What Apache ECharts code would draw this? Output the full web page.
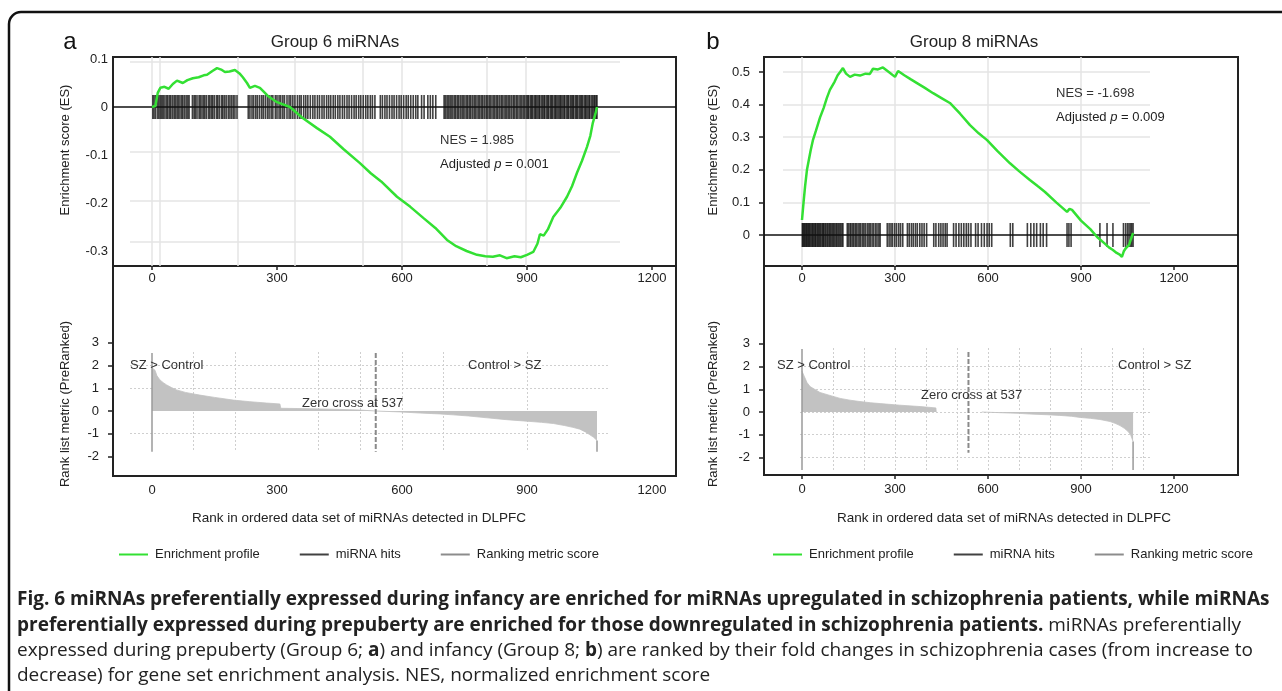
<!DOCTYPE html>
<html>
<head>
<meta charset="utf-8">
<title>GSEA miRNAs</title>
<script src="https://cdn.jsdelivr.net/npm/echarts@6/dist/echarts.min.js"></script>
<style>
  html, body { margin: 0; padding: 0; background: #fff; }
  #main { width: 1282px; height: 691px; }
</style>
</head>
<body>
<div id="main"></div>
<script type="text/javascript">
// ---- values ----
var xTicks = [0, 300, 600, 900, 1200];
var esTicksA = [-0.3, -0.2, -0.1, 0, 0.1];
var esTicksB = [0, 0.1, 0.2, 0.3, 0.4, 0.5];
var metricTicks = [-2, -1, 0, 1, 2, 3];

// panel a, Group 6: running enrichment score [rank, ES]
var esA = [[0,0],[8,0.002],[12,0.006],[14,0.03],[20,0.04],[30,0.042],[40,0.038],[50,0.048],[60,0.055],[74,0.05],
  [85,0.056],[98,0.06],[112,0.062],[124,0.066],[132,0.067],[145,0.075],[156,0.081],[166,0.078],[175,0.073],[186,0.074],
  [199,0.077],[210,0.07],[218,0.062],[228,0.05],[235,0.04],[247,0.044],[259,0.04],[268,0.032],[278,0.023],[300,0.01],
  [331,0],[360,-0.022],[396,-0.044],[427,-0.062],[460,-0.088],[499,-0.117],[525,-0.138],[550,-0.155],[588,-0.187],
  [620,-0.208],[651,-0.231],[680,-0.252],[708,-0.277],[730,-0.29],[755,-0.3],[780,-0.308],[800,-0.311],[818,-0.312],
  [835,-0.309],[851,-0.315],[870,-0.311],[885,-0.313],[900,-0.308],[915,-0.302],[925,-0.285],[931,-0.265],[940,-0.268],
  [950,-0.255],[963,-0.229],[980,-0.21],[996,-0.187],[1008,-0.165],[1020,-0.137],[1032,-0.112],[1044,-0.083],
  [1052,-0.06],[1058,-0.033],[1064,-0.015],[1068,0]];
// ranks of the set members (miRNA hits)
var hitsA = [2,5,9,14,17,21,24,27,31,35,38,42,45,49,53,56,60,63,67,71,74,78,82,86,89,
  97,101,104,108,113,116,120,124,127,131,136,139,143,146,150,155,158,162,167,170,174,178,183,187,191,195,199,204,
  231,235,240,244,249,253,258,263,267,272,277,281,286,290,296,300,305,309,314,318,324,329,333,338,343,349,354,358,
  364,369,374,380,386,391,397,402,408,413,419,424,429,435,440,446,451,457,462,468,473,479,485,490,496,501,507,513,
  518,524,529,535,548,553,559,564,570,576,581,587,593,598,604,610,615,621,627,633,638,647,653,662,668,674,681,
  701,704,708,711,715,718,722,726,729,733,736,740,744,747,751,755,758,762,765,769,773,776,780,784,787,791,794,798,
  802,805,809,812,816,820,823,827,830,834,838,841,845,849,852,856,859,863,867,870,874,877,881,885,888,892,895,899,
  902,904,908,911,913,917,920,922,926,929,931,935,938,941,943,947,950,952,956,959,961,965,968,970,974,977,980,982,
  986,989,991,995,998,1000,1004,1007,1010,1012,1016,1019,1021,1025,1028,1031,1033,1037,1040,1042,1046,1049,1051,
  1055,1058,1061,1063,1066,1068];
// ranked list metric [rank, value]
var metricPosA = [[0,1.9],[7,1.8],[12,1.55],[19,1.37],[27,1.25],[35,1.15],[47,1.03],[59,0.93],[80,0.82],[100,0.75],
  [115,0.7],[150,0.6],[195,0.48],[235,0.41],[275,0.35],[307,0.31],[309,0.12],[380,0.1],[450,0.07],[500,0.04],[537,0]];
var metricNegA = [[537,0],[595,-0.04],[643,-0.09],[691,-0.13],[723,-0.17],[760,-0.22],[804,-0.3],[850,-0.38],
  [900,-0.45],[935,-0.5],[963,-0.55],[990,-0.64],[1010,-0.72],[1027,-0.8],[1040,-0.92],[1051,-1.05],[1060,-1.16],[1068,-1.3]];
var startLineA = [[0,2.55],[0,-1.8]];
var endLineA = [[1068,-1.3],[1068,-1.8]];
var crossLineA = [[537,2.55],[537,-1.8]];

// panel b, Group 8
var esB = [[0,0.046],[5,0.1],[10,0.15],[16,0.2],[22,0.23],[28,0.26],[35,0.29],[45,0.32],[58,0.36],[70,0.39],[80,0.42],
  [90,0.445],[105,0.47],[115,0.49],[123,0.5],[132,0.512],[142,0.495],[155,0.485],[170,0.492],[187,0.489],[205,0.495],
  [219,0.494],[229,0.51],[245,0.508],[261,0.514],[280,0.5],[300,0.485],[310,0.503],[330,0.49],[350,0.478],[371,0.466],
  [395,0.452],[423,0.435],[450,0.42],[477,0.405],[510,0.372],[542,0.337],[570,0.312],[597,0.291],[630,0.258],[671,0.22],
  [700,0.196],[735,0.169],[760,0.15],[784,0.132],[820,0.1],[855,0.071],[863,0.08],[871,0.077],[900,0.044],[930,0.018],
  [952,-0.006],[975,-0.025],[990,-0.038],[1003,-0.046],[1015,-0.055],[1025,-0.06],[1032,-0.067],[1038,-0.05],
  [1045,-0.04],[1055,-0.03],[1062,-0.01],[1068,0.006]];
var hitsB = [1,3,6,8,11,14,16,19,22,24,27,31,34,36,40,43,45,49,52,55,58,61,65,68,70,74,77,81,84,88,91,95,99,102,106,
  110,113,117,121,125,129,132,146,150,155,158,163,167,172,176,181,186,190,196,200,205,211,216,220,226,231,237,242,248,252,
  275,281,287,292,299,305,312,318,325,340,346,353,359,366,372,380,387,394,402,425,432,441,448,455,462,468,
  489,497,506,514,522,530,537,545,560,568,579,588,597,604,612,672,680,727,738,748,757,769,778,789,855,861,868,
  961,984,1003,1037,1044,1050,1055,1060,1064,1068];
var metricPosB = [[0,1.8],[8,1.55],[16,1.3],[26,1.12],[42,0.99],[58,0.86],[90,0.73],[123,0.6],[155,0.52],[187,0.46],
  [220,0.41],[252,0.37],[316,0.3],[381,0.24],[432,0.18],[433,0]];
var metricNegB = [[580,0],[639,-0.03],[700,-0.06],[735,-0.09],[790,-0.12],[832,-0.15],[870,-0.19],[897,-0.24],
  [930,-0.28],[961,-0.33],[994,-0.42],[1010,-0.5],[1026,-0.6],[1040,-0.72],[1052,-0.86],[1060,-1.0],[1068,-1.3]];
var startLineB = [[0,2.78],[0,-2.55]];
var endLineB = [[1068,-1.3],[1068,-2.55]];
var crossLineB = [[537,2.64],[537,-1.8]];

// faint background grid of the original plots
var gridXA = [0, 19, 206, 343, 506, 600, 804, 898];
var gridYA = [0.094, -0.094, -0.196, -0.281];
var gridXB = [0, 300, 600, 900];
var gridYB = [0.1, 0.2, 0.3, 0.4, 0.5];
var dotXA = [100, 200, 400, 500, 600, 700, 900, 1100];
var dotYA = [-1, 1, 2];
var dotXB = [100, 200, 300, 400, 500, 600, 700, 800, 900, 1000, 1100];
var dotYB = [-2, -1, 0, 1, 2];

// ---- layout ----
var FONT = '"Liberation Sans", Arial, sans-serif';
var CAPFONT = '"Open Sans", "Liberation Sans", sans-serif';
var GREEN = '#33e033', GREYFILL = '#c2c2c2';
var sxA = 125 / 300, sxB = 93 / 300;   // px per rank

function xr(l, r, z, s) { return { min: (l - z) / s, max: (r - z) / s }; }
function yr(t, b, z, s) { return { min: (z - b) / s, max: (z - t) / s }; }
function plain(v) { return String(v); }

function mainX(grid, rng, tickShow, margin) {
  return {
    type: 'value', gridIndex: grid, min: rng.min, max: rng.max,
    axisLine: { show: false, onZero: false },
    axisTick: { show: tickShow, length: 4, customValues: xTicks, lineStyle: { color: '#222', width: 1.5 } },
    axisLabel: { customValues: xTicks, margin: margin, color: '#222', fontSize: 13, fontFamily: FONT, formatter: plain },
    splitLine: { show: false }
  };
}
function mainY(grid, rng, ticks, tickShow, margin) {
  return {
    type: 'value', gridIndex: grid, min: rng.min, max: rng.max,
    axisLine: { show: false, onZero: false },
    axisTick: { show: tickShow, length: 5, customValues: ticks, lineStyle: { color: '#222', width: 1.5 } },
    axisLabel: { customValues: ticks, margin: margin, color: '#222', fontSize: 13, fontFamily: FONT, formatter: plain },
    splitLine: { show: false }
  };
}
function decor(grid, rng, vals, style) {
  return {
    type: 'value', gridIndex: grid, min: rng.min, max: rng.max,
    axisLine: { show: false, onZero: false },
    axisTick: { show: false, customValues: vals },
    axisLabel: { show: false, customValues: vals },
    splitLine: { show: true, lineStyle: style }
  };
}
var lightGrid = { color: '#e4e4e4', width: 1.5, type: 'solid' };
var dotGrid = { color: '#cfcfcf', width: 1, type: [2, 2] };

var grids = [
  { left: 113, top: 57, width: 563, height: 209 },
  { left: 113, top: 266, width: 563, height: 210 },
  { left: 764, top: 57, width: 474, height: 209 },
  { left: 764, top: 266, width: 474, height: 209 },
  { left: 130, top: 57, width: 490, height: 209 },
  { left: 783, top: 57, width: 367, height: 209 },
  { left: 130, top: 352, width: 480, height: 100 },
  { left: 800, top: 348, width: 350, height: 122 }
].map(function (g, i) {
  g.outerBoundsMode = 'none';
  g.containLabel = false;
  if (i < 4) { g.show = true; g.borderColor = '#222'; g.borderWidth = 2; g.backgroundColor = 'transparent'; }
  return g;
});

var xAxes = [
  mainX(0, xr(113, 676, 152, sxA), true, 6),
  mainX(1, xr(113, 676, 152, sxA), false, 8),
  mainX(2, xr(764, 1238, 802, sxB), true, 6),
  mainX(3, xr(764, 1238, 802, sxB), true, 8),
  decor(4, xr(130, 620, 152, sxA), gridXA, lightGrid),
  decor(5, xr(783, 1150, 802, sxB), gridXB, lightGrid),
  decor(6, xr(130, 610, 152, sxA), dotXA, dotGrid),
  decor(7, xr(800, 1150, 802, sxB), dotXB, dotGrid)
];
var yAxes = [
  mainY(0, yr(57, 266, 107, 480), esTicksA, false, 5),
  mainY(1, yr(266, 476, 411, 22.7), metricTicks, true, 14),
  mainY(2, yr(57, 266, 235, 326), esTicksB, true, 14),
  mainY(3, yr(266, 475, 412, 22.7), metricTicks, true, 14),
  decor(4, yr(57, 266, 107, 480), gridYA, lightGrid),
  decor(5, yr(57, 266, 235, 326), gridYB, lightGrid),
  decor(6, yr(352, 452, 411, 22.7), dotYA, dotGrid),
  decor(7, yr(348, 470, 412, 22.7), dotYB, dotGrid)
];

function esSeries(idx, data) {
  return { name: 'Enrichment profile', type: 'line', xAxisIndex: idx, yAxisIndex: idx, data: data,
    showSymbol: false, z: 6, lineStyle: { color: GREEN, width: 2.5 }, itemStyle: { color: GREEN } };
}
function hitSeries(idx, ranks) {
  return { name: 'miRNA hits', type: 'scatter', xAxisIndex: idx, yAxisIndex: idx,
    data: ranks.map(function (r) { return [r, 0]; }),
    symbol: 'rect', symbolSize: [1.6, 24], z: 4, itemStyle: { color: '#111' },
    markLine: { silent: true, symbol: ['none', 'none'], label: { show: false },
      lineStyle: { color: '#111', width: 1.5, type: 'solid' }, data: [{ yAxis: 0 }] } };
}
function areaSeries(idx, data) {
  return { name: 'Ranking metric score', type: 'line', xAxisIndex: idx, yAxisIndex: idx, data: data,
    showSymbol: false, z: 3, lineStyle: { color: GREYFILL, width: 0.8 },
    itemStyle: { color: '#8c8c8c' }, areaStyle: { color: GREYFILL, opacity: 1 } };
}
function vline(name, idx, data, color, dashed) {
  return { name: name, type: 'line', xAxisIndex: idx, yAxisIndex: idx, data: data, showSymbol: false, z: 4,
    lineStyle: { color: color, width: dashed ? 2 : 1.5, type: dashed ? [5, 2] : 'solid' } };
}

var series = [
  hitSeries(0, hitsA), esSeries(0, esA),
  areaSeries(1, metricPosA), areaSeries(1, metricNegA),
  vline('Metric ends', 1, startLineA, '#9a9a9a'), vline('Metric ends', 1, endLineA, '#9a9a9a'),
  vline('Zero cross', 1, crossLineA, '#8a8a8a', true),
  hitSeries(2, hitsB), esSeries(2, esB),
  areaSeries(3, metricPosB), areaSeries(3, metricNegB),
  vline('Metric ends', 3, startLineB, '#9a9a9a'), vline('Metric ends', 3, endLineB, '#9a9a9a'),
  vline('Zero cross', 3, crossLineB, '#8a8a8a', true)
];

function legendAt(left) {
  return { left: left, top: 543, icon: 'rect', itemWidth: 29, itemHeight: 2, itemGap: 40, selectedMode: false,
    textStyle: { fontSize: 13, color: '#222', fontFamily: FONT, padding: [0, 0, 0, 2] },
    data: [
      { name: 'Enrichment profile', itemStyle: { color: GREEN } },
      { name: 'miRNA hits', itemStyle: { color: '#111' } },
      { name: 'Ranking metric score', itemStyle: { color: '#8c8c8c' } }
    ] };
}

function txt(x, y, text, size, opts) {
  opts = opts || {};
  return { type: 'text', x: x, y: y, rotation: opts.rot || 0, silent: true, z: 20,
    style: { text: text, fontSize: size, fontFamily: opts.font || FONT, fontWeight: opts.weight || 'normal',
      fill: opts.color || '#222', align: opts.align || 'left', verticalAlign: 'middle',
      textAlign: opts.align || 'left', textVerticalAlign: 'middle', rich: opts.rich } };
}

var CAPSIZE = 19;
var capRich = {
  b: { fontWeight: 'bold', fontSize: CAPSIZE, fontFamily: CAPFONT, color: '#111' },
  r: { fontWeight: 'normal', fontSize: CAPSIZE, fontFamily: CAPFONT, color: '#3a3a3a' }
};
var pRich = {
  n: { fontSize: 13, fontFamily: FONT, color: '#333' },
  i: { fontSize: 13, fontFamily: FONT, fontStyle: 'italic', color: '#333' }
};

var graphics = [
  { type: 'rect', silent: true, z: 1, shape: { x: 9, y: 12, width: 1310, height: 720, r: 12 },
    style: { fill: 'none', stroke: '#111', lineWidth: 2.5 } },
  txt(70, 42, 'a', 24, { align: 'center', color: '#111' }),
  txt(713, 42, 'b', 24, { align: 'center', color: '#111' }),
  txt(335, 42, 'Group 6 miRNAs', 17, { align: 'center' }),
  txt(974, 42, 'Group 8 miRNAs', 17, { align: 'center' }),
  txt(440, 140, 'NES = 1.985', 13, { color: '#333' }),
  txt(440, 164, '{n|Adjusted }{i|p}{n| = 0.001}', 13, { rich: pRich }),
  txt(1056, 93, 'NES = -1.698', 13, { color: '#333' }),
  txt(1056, 117, '{n|Adjusted }{i|p}{n| = 0.009}', 13, { rich: pRich }),
  txt(65, 150, 'Enrichment score (ES)', 13, { align: 'center', rot: Math.PI / 2 }),
  txt(65, 404, 'Rank list metric (PreRanked)', 13, { align: 'center', rot: Math.PI / 2 }),
  txt(713, 150, 'Enrichment score (ES)', 13, { align: 'center', rot: Math.PI / 2 }),
  txt(713, 404, 'Rank list metric (PreRanked)', 13, { align: 'center', rot: Math.PI / 2 }),
  txt(359, 518, 'Rank in ordered data set of miRNAs detected in DLPFC', 13.5, { align: 'center' }),
  txt(1004, 518, 'Rank in ordered data set of miRNAs detected in DLPFC', 13.5, { align: 'center' }),
  txt(130, 365, 'SZ > Control', 13, { color: '#333' }),
  txt(302, 403, 'Zero cross at 537', 13, { color: '#333' }),
  txt(468, 365, 'Control > SZ', 13, { color: '#333' }),
  txt(777, 365, 'SZ > Control', 13, { color: '#333' }),
  txt(921, 395, 'Zero cross at 537', 13, { color: '#333' }),
  txt(1118, 365, 'Control > SZ', 13, { color: '#333' }),
  txt(17, 600, '{b|Fig. 6 miRNAs preferentially expressed during infancy are enriched for miRNAs upregulated in schizophrenia patients, while miRNAs}', CAPSIZE, { rich: capRich, font: CAPFONT }),
  txt(17, 626, '{b|preferentially expressed during prepuberty are enriched for those downregulated in schizophrenia patients.}{r| miRNAs preferentially}', CAPSIZE, { rich: capRich, font: CAPFONT }),
  txt(17, 651, '{r|expressed during prepuberty (Group 6; }{b|a}{r|) and infancy (Group 8; }{b|b}{r|) are ranked by their fold changes in schizophrenia cases (from increase to}', CAPSIZE, { rich: capRich, font: CAPFONT }),
  txt(17, 676, '{r|decrease) for gene set enrichment analysis. NES, normalized enrichment score}', CAPSIZE, { rich: capRich, font: CAPFONT })
];

var myChart = echarts.init(document.getElementById('main'), null, { renderer: 'canvas' });
myChart.setOption({
  animation: false,
  backgroundColor: '#fff',
  grid: grids,
  xAxis: xAxes,
  yAxis: yAxes,
  legend: [legendAt(114), legendAt(768)],
  series: series,
  graphic: { elements: graphics }
});
</script>
</body>
</html>
